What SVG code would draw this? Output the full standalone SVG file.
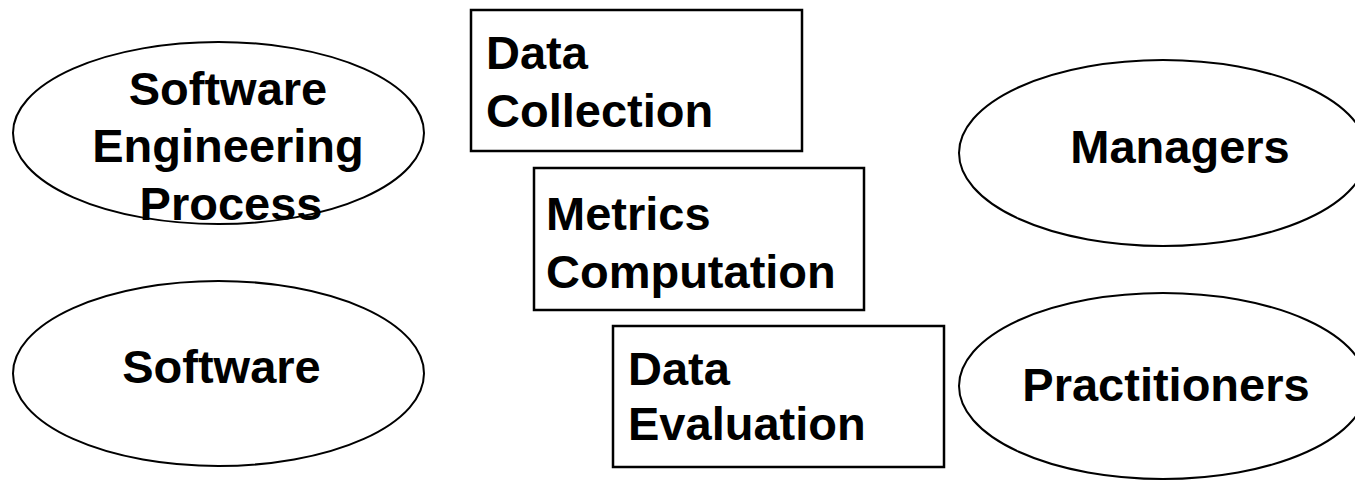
<svg xmlns="http://www.w3.org/2000/svg" width="1355" height="482" viewBox="0 0 1355 482">
<style>
.shape{fill:#fff;stroke:#000;stroke-width:2}
.box{fill:#fff;stroke:#000;stroke-width:2.5}
.t{font-family:"Liberation Sans",Arial,sans-serif;font-weight:bold;font-size:47px;fill:#000}
.c{text-anchor:middle}
</style>
<rect width="1355" height="482" fill="#fff"/>
<g id="connectors"></g>
<g id="sep">
<ellipse class="shape" cx="218.5" cy="133" rx="205.5" ry="91"/>
<text class="t c" x="228" y="105">Software</text>
<text class="t c" x="228" y="162">Engineering</text>
<text class="t c" x="231" y="220">Process</text>
</g>
<g id="software">
<ellipse class="shape" cx="218.5" cy="373.5" rx="205.5" ry="92.5"/>
<text class="t c" x="221.5" y="383">Software</text>
</g>
<g id="data-collection">
<rect class="box" x="471" y="10" width="331" height="141"/>
<text class="t" x="486" y="69">Data</text>
<text class="t" x="486" y="127">Collection</text>
</g>
<g id="metrics-computation">
<rect class="box" x="534" y="168" width="330" height="142"/>
<text class="t" x="546" y="230">Metrics</text>
<text class="t" x="546" y="288">Computation</text>
</g>
<g id="data-evaluation">
<rect class="box" x="613" y="326" width="331" height="141"/>
<text class="t" x="628" y="385">Data</text>
<text class="t" x="628" y="440">Evaluation</text>
</g>
<g id="managers">
<ellipse class="shape" cx="1163" cy="153" rx="204" ry="93"/>
<text class="t c" x="1180" y="163">Managers</text>
</g>
<g id="practitioners">
<ellipse class="shape" cx="1163" cy="386" rx="204" ry="93"/>
<text class="t c" x="1166" y="401">Practitioners</text>
</g>
</svg>
